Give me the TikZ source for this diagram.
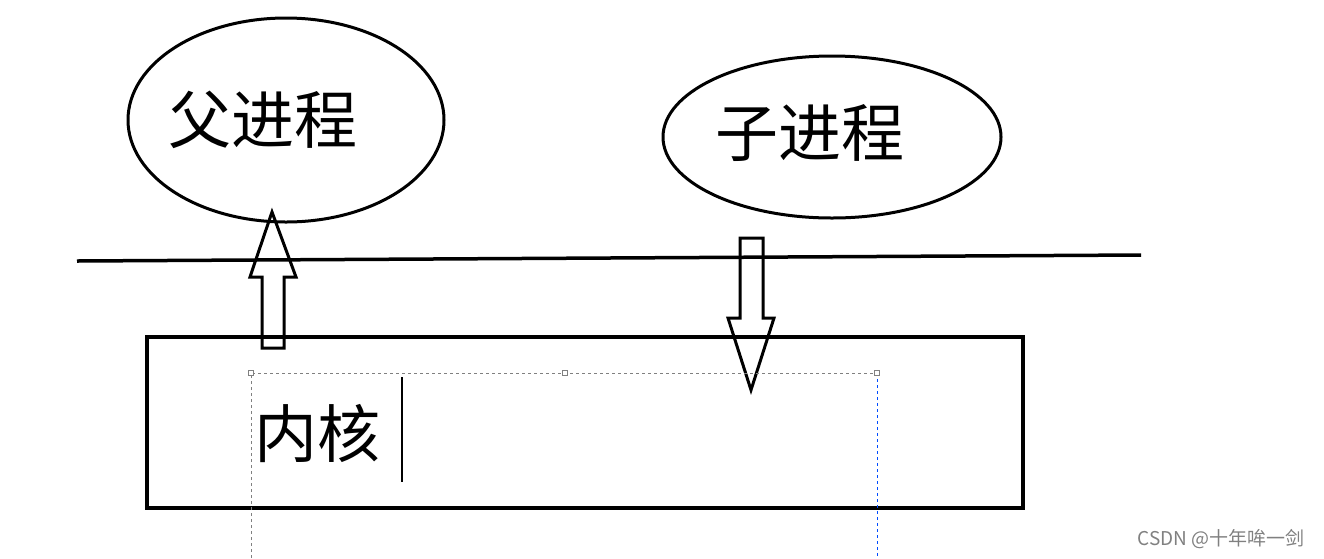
\documentclass[tikz,border=0pt]{standalone}
\usepackage{fontspec}
\usetikzlibrary{shapes.geometric}
\newfontfamily\cjk{Noto Sans CJK SC}
\begin{document}
\begin{tikzpicture}[x=1pt,y=-1pt,line width=3.5pt,
  big/.style={font=\cjk\fontsize{63}{65}\selectfont,inner sep=0pt},
  arr/.style={line width=3pt,line join=miter}]
\useasboundingbox (0,0) rectangle (1324,558);
\node[draw,ellipse,minimum width=316,minimum height=204,inner sep=0,line width=3pt] (p) at (286,120) {};
\node[draw,ellipse,minimum width=338,minimum height=162,inner sep=0,line width=3pt] (c) at (832,137) {};
\node[big] (pt) at (263,120) {父进程};
\node[big] (ct) at (810,133) {子进程};
\coordinate (l1) at (77,261); \coordinate (l2) at (1141,255);
\draw (l1) -- (l2);
\node[draw,minimum width=876,minimum height=171,inner sep=0,anchor=north west,line width=4pt] (k) at (145,335) {};
\draw[arr] (262,348) -- (262,277) -- (250,277) -- (272,212) -- (296,277) -- (284,277) -- (284,348) -- cycle;
\draw[arr] (740,238) -- (740,318) -- (728,318) -- (751,390) -- (774,318) -- (763,318) -- (763,238) -- cycle;
\draw[line width=0.6pt,dashed,gray] (251,558) -- (251,373) -- (877,373);
\draw[line width=0.7pt,dashed,blue!70!cyan] (877,373) -- (877,558);
\foreach \x in {251,565,877} \draw[line width=0.5pt,gray,fill=white] (\x-2.5,370.5) rectangle (\x+2.5,375.5);
\node[big,anchor=west] (kt) at (253,433) {内核};
\draw[line width=1.5pt] (402,377) -- (402,482);
\node[font=\cjk\fontsize{19}{20}\selectfont,text=gray,anchor=east] (wm) at (1310,539) {CSDN @十年哞一剑};
\end{tikzpicture}
\end{document}
